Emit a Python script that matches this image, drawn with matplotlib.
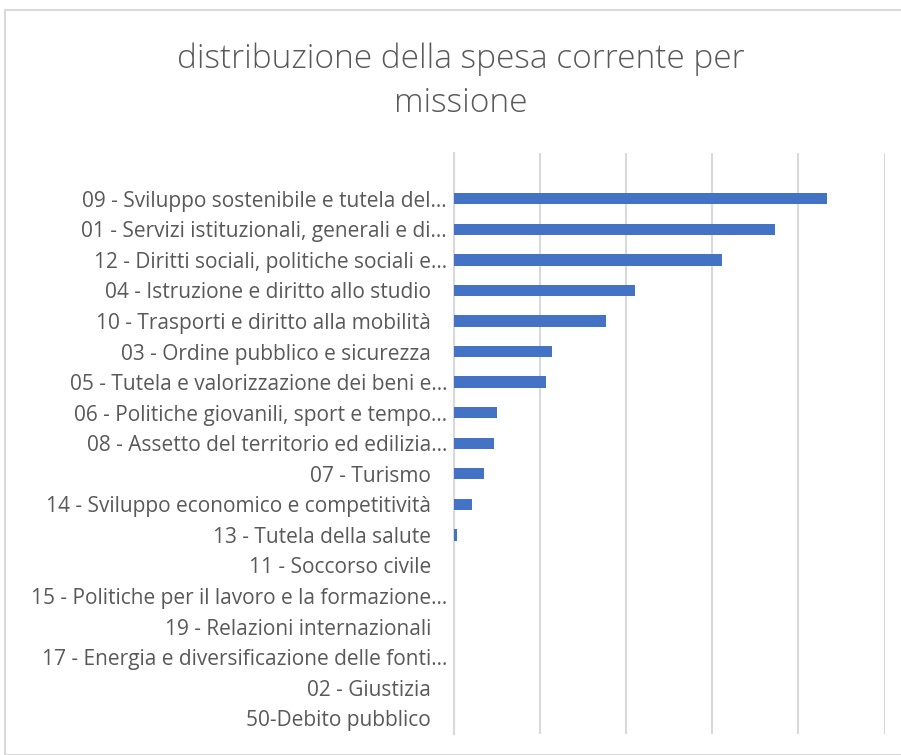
import matplotlib.pyplot as plt
from matplotlib.patches import Rectangle

# categories, top to bottom as shown
missioni = [
    "09 - Sviluppo sostenibile e tutela del…",
    "01 - Servizi istituzionali, generali e di…",
    "12 - Diritti sociali, politiche sociali e…",
    "04 - Istruzione e diritto allo studio   ",
    "10 - Trasporti e diritto alla mobilità   ",
    "03 - Ordine pubblico e sicurezza   ",
    "05 - Tutela e valorizzazione dei beni e…",
    "06 - Politiche giovanili, sport e tempo…",
    "08 - Assetto del territorio ed edilizia…",
    "07 - Turismo   ",
    "14 - Sviluppo economico e competitività   ",
    "13 - Tutela della salute   ",
    "11 - Soccorso civile   ",
    "15 - Politiche per il lavoro e la formazione…",
    "19 - Relazioni internazionali   ",
    "17 - Energia e diversificazione delle fonti…",
    "02 - Giustizia   ",
    "50-Debito pubblico   ",
]
# spesa corrente (gridline step = 1 unit, no axis labels in the original)
spesa = [4.33, 3.73, 3.11, 2.10, 1.77, 1.14, 1.07, 0.50, 0.46, 0.35,
         0.21, 0.04, 0.0, 0.0, 0.0, 0.0, 0.0, 0.0]

plt.rcParams['font.family'] = ['Open Sans', 'DejaVu Sans']

W, H = 901, 755
fig = plt.figure(figsize=(W / 100, H / 100), dpi=100)

# chart frame
fig.patches.append(Rectangle((5 / W, 0), 1, 1 - 10 / H, transform=fig.transFigure,
                             fill=False, edgecolor='#d9d9d9', linewidth=1.5))

ax = fig.add_axes([454 / W, 1 - 733.5 / H, (884.5 - 454) / W, (733.5 - 153) / H])
pos = range(len(missioni))
ax.barh(pos, spesa, height=0.37, color='#4472C4', linewidth=0, zorder=3)

ax.set_xlim(0, 5)
ax.set_ylim(len(missioni) - 0.5, -1.5)
ax.set_xticks(range(6))
ax.set_xticklabels([])
ax.tick_params(axis='x', length=0)
ax.grid(axis='x', color='#d9d9d9', linewidth=1.5, zorder=0)
ax.set_yticks(list(pos))
ax.set_yticklabels(missioni, fontsize=15, color='#595959')
ax.tick_params(axis='y', length=0, pad=5)
for s in ['top', 'right', 'bottom']:
    ax.spines[s].set_visible(False)
ax.spines['left'].set_color('#d9d9d9')
ax.spines['left'].set_linewidth(1.5)

fig.text(461 / W, 1 - 81 / H, "distribuzione della spesa corrente per\nmissione",
         ha='center', va='center', fontsize=24, color='#595959', linespacing=1.4,
         fontweight='light')

fig.savefig('out.png', dpi=100)
